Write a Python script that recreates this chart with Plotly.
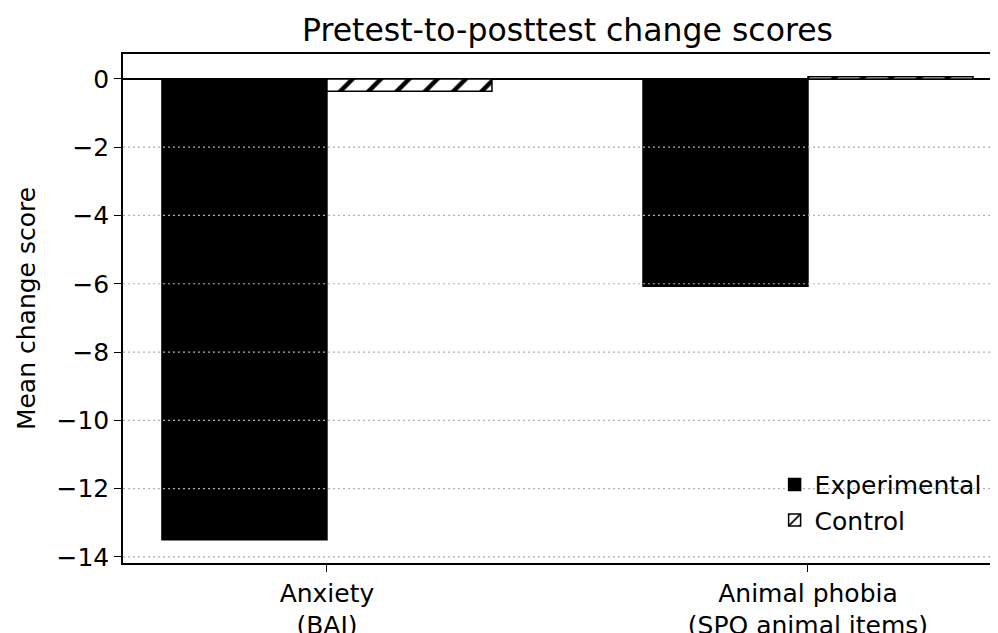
import plotly.graph_objects as go

categories = ["Anxiety<br>(BAI)", "Animal phobia<br>(SPQ animal items)"]
experimental = [-13.5, -6.07]
control = [-0.36, 0.06]
series_names = ["Experimental", "Control"]
ytick_vals = [0, -2, -4, -6, -8, -10, -12, -14]
ytick_text = ["0", "\u22122", "\u22124", "\u22126", "\u22128", "\u221210", "\u221212", "\u221214"]

FONT = "DejaVu Sans"
W, H = 990, 625  # page body has an 8px margin inside the 998x633 window

fig = go.Figure()
fig.add_trace(go.Bar(
    x=categories, y=experimental, name=series_names[0],
    marker=dict(color="black", line=dict(color="black", width=1.5)),
))
fig.add_trace(go.Bar(
    x=categories, y=control, name=series_names[1],
    marker=dict(color="white", line=dict(color="black", width=1.5),
                pattern=dict(shape="/", fgcolor="black", bgcolor="white",
                             size=20, solidity=0.22)),
))

# dotted horizontal gridlines drawn above bars (as in the reference)
for v in ytick_vals:
    if v == 0:
        continue
    fig.add_shape(type="line", xref="paper", x0=0, x1=1, yref="y", y0=v, y1=v,
                  line=dict(color="#b0b0b0", width=1.2, dash="2px,3px"), layer="above")

fig.update_layout(
    template="none",
    width=W, height=H,
    margin=dict(l=115, r=0, t=46, b=70, autoexpand=False),
    paper_bgcolor="white", plot_bgcolor="white",
    font=dict(family=FONT, size=25, color="black"),
    barmode="group", bargap=0.314, bargroupgap=0,
    title=dict(text="Pretest-to-posttest change scores", x=559.5 / W, xanchor="center",
               xref="container", yref="container", y=1 - 22 / H, yanchor="middle",
               font=dict(size=31.5, family=FONT, color="black")),
    legend=dict(x=0.7447, xanchor="left", y=0.199, yanchor="top",
                bgcolor="rgba(0,0,0,0)", borderwidth=0, font=dict(size=25, family=FONT),
                tracegroupgap=4),
    showlegend=True,
)
fig.update_xaxes(
    range=[-0.424, 1.395], showline=True, linecolor="black", linewidth=1.5,
    mirror=True, ticks="outside", ticklen=7, tickwidth=1.3, tickcolor="black",
    showgrid=False, zeroline=False, automargin=False,
    tickfont=dict(size=25, family=FONT),
)
fig.update_yaxes(
    range=[-14.18, 0.73], showline=True, linecolor="black", linewidth=1.5,
    mirror=False, ticks="outside", ticklen=7, tickwidth=1.3, tickcolor="black",
    tickvals=ytick_vals, ticktext=ytick_text, showgrid=False, automargin=False,
    zeroline=True, zerolinecolor="black", zerolinewidth=1.5,
    tickfont=dict(size=25, family=FONT),
    title=dict(text="Mean change score", font=dict(size=25, family=FONT), standoff=14),
)

fig.write_html("out.html")
